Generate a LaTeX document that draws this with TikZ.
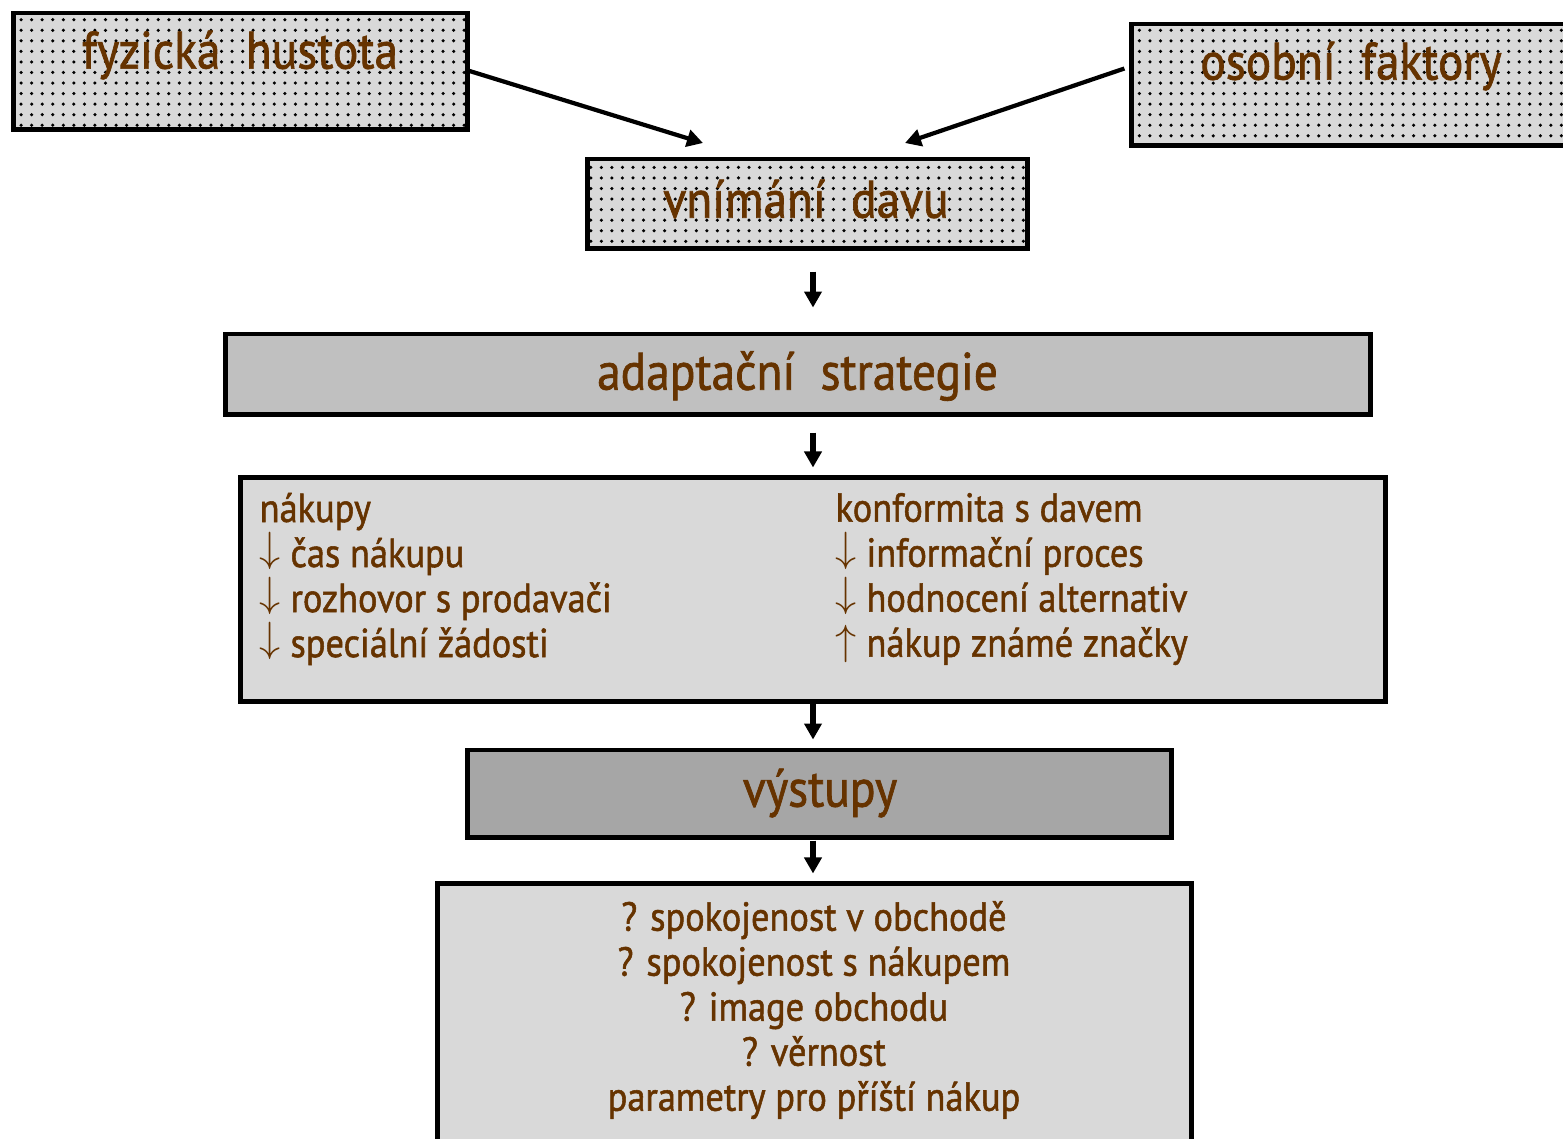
\documentclass[tikz,border=0pt]{standalone}
\usepackage{fontspec}
\setmainfont{PT Sans}[FakeStretch=0.9,FakeBold=1.3]
\usetikzlibrary{positioning,calc,arrows.meta,patterns}
\definecolor{txtbrown}{HTML}{663300}
\definecolor{lightbox}{HTML}{D9D9D9}
\definecolor{midbox}{HTML}{C0C0C0}
\definecolor{darkbox}{HTML}{A6A6A6}
\newcommand{\dnarr}{\smash{\raisebox{0.25ex}{$\downarrow$}}}
\newcommand{\uparr}{\smash{\raisebox{0.1ex}{$\uparrow$}}}

\tikzset{
  box/.style={draw=black, line width=1.4pt, inner sep=0pt},
  dotbox/.style={box, preaction={fill=lightbox}, pattern=dots, pattern color=black},
  headtext/.style={text=txtbrown, font=\fontsize{15}{18}\selectfont, inner sep=0pt},
  listtext/.style={text=txtbrown, font=\fontsize{11.5}{12.8}\selectfont, inner sep=0pt},
  arr/.style={line width=1.2pt, -{Triangle[length=0.16cm,width=0.17cm]}},
  downarr/.style={arr, line width=1.5pt}
}

\begin{document}
\begin{tikzpicture}[x=0.01cm,y=-0.01cm]
\useasboundingbox (0,0) rectangle (1563,1138);

% top row
\node[dotbox, minimum width=4.53cm, minimum height=1.16cm] (fyz) at (240.5,71) {};
\node[headtext] (fyzt) at (240,55) {fyzická\ \ hustota};
\node[dotbox, minimum width=4.56cm, minimum height=1.21cm] (osf) at (1360,84.5) {};
\node[headtext] (osft) at (1351,66) {osobní\ \ faktory};
\node[dotbox, minimum width=4.39cm, minimum height=0.89cm] (vni) at (807.5,203.5) {};
\node[headtext] (vnit) at (806,199) {vnímání\ \ davu};

% middle
\node[box, fill=midbox, minimum width=11.44cm, minimum height=0.80cm] (ada) at (798,374) {};
\node[headtext] (adat) at (797.5,376) {adaptační\ \ strategie};
\node[box, fill=lightbox, minimum width=11.44cm, minimum height=2.23cm] (big) at (813,589.5) {};
\node[listtext, align=left, anchor=west] (nak) at (259,579) {nákupy\\
  \dnarr\ čas nákupu\\
  \dnarr\ rozhovor s prodavači\\
  \dnarr\ speciální žádosti};
\node[listtext, align=left, anchor=west] (kon) at (835,579) {konformita s davem\\
  \dnarr\ informační proces\\
  \dnarr\ hodnocení alternativ\\
  \uparr\ nákup známé značky};

% bottom
\node[box, fill=darkbox, minimum width=7.03cm, minimum height=0.87cm] (vys) at (819.5,793.5) {};
\node[headtext] (vyst) at (820,793) {výstupy};
\node[box, fill=lightbox, minimum width=7.53cm, minimum height=2.66cm] (bot) at (814.5,1017) {};
\node[listtext, align=center] (bott) at (814,1010) {? spokojenost v obchodě\\
  ? spokojenost s nákupem\\
  ? image obchodu\\
  ? věrnost\\
  parametry pro příští nákup};

% connectors
\coordinate (vniL) at (703,143);
\coordinate (vniR) at (905,143);
\draw[arr] (fyz.east) -- (vniL);
\draw[arr] ([shift={(-0.05cm,0.16cm)}]osf.west) -- (vniR);
\draw[downarr] ($(vni.south -| big.center)+(0,21)$) -- ($(ada.north -| big.center)+(0,-24)$);
\draw[downarr] ($(ada.south -| big.center)+(0,16)$) -- ($(big.north)+(0,-8)$);
\draw[downarr] (big.south) -- ($(vys.north -| big.center)+(0,-8)$);
\draw[downarr] ($(vys.south -| big.center)+(0,1)$) -- ($(bot.north -| big.center)+(0,-8)$);
\end{tikzpicture}
\end{document}
